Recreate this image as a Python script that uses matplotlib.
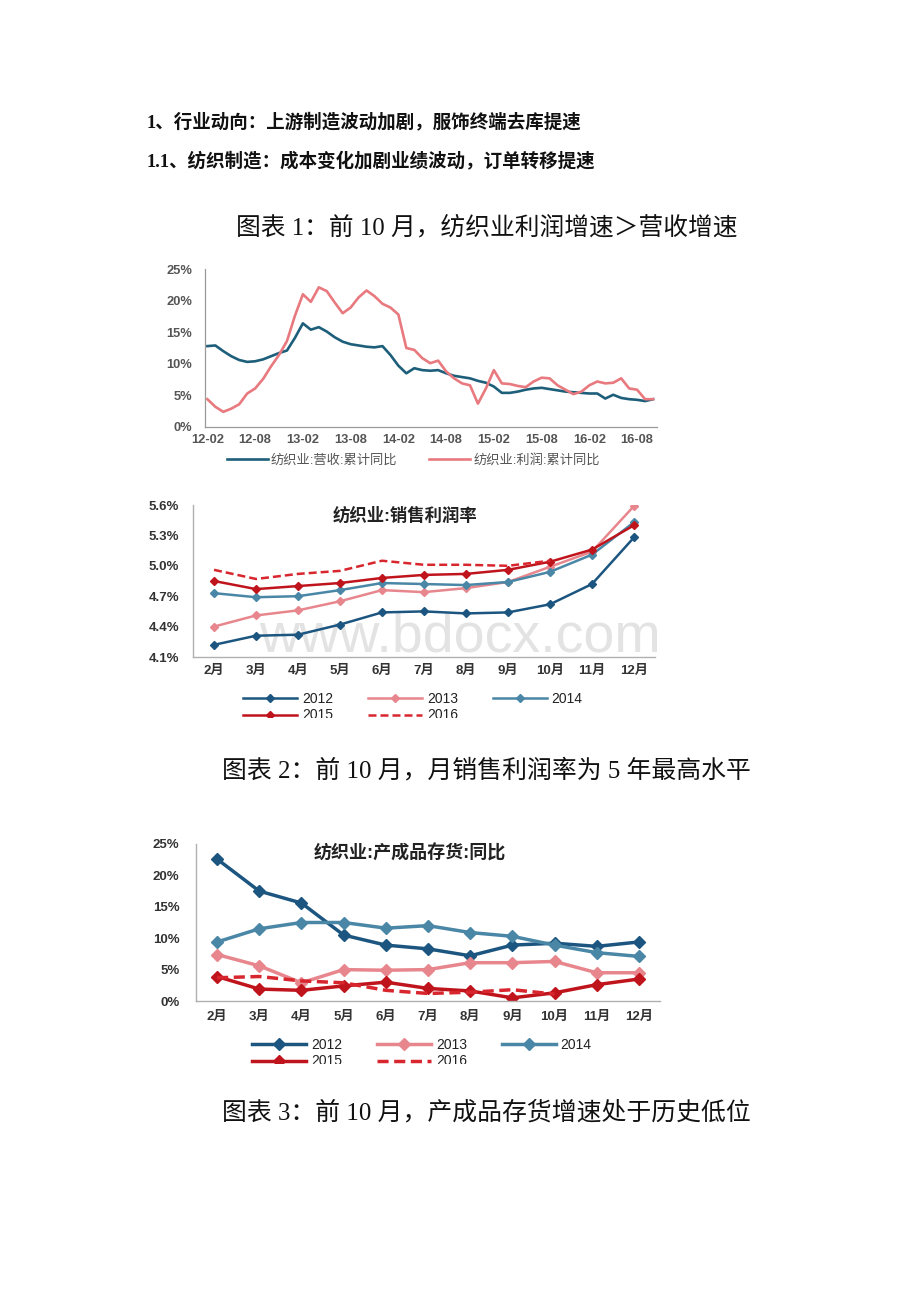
import matplotlib
matplotlib.use('Agg')
import matplotlib.pyplot as plt
from matplotlib.patches import Rectangle
import pandas as pd

plt.rcParams['font.family'] = ['Liberation Sans', 'Noto Sans CJK SC', 'DejaVu Sans']

# ---------------- data ----------------
# Chart 1: monthly cumulative YoY, 2012-02 .. 2016-10
c1_months = [p.strftime('%y-%m') for p in pd.period_range('2012-02', '2016-10', freq='M')]
c1_tick_labels = ['12-02', '12-08', '13-02', '13-08', '14-02', '14-08', '15-02', '15-08', '16-02', '16-08']
c1_revenue = [12.8, 12.9, 12.0, 11.2, 10.6, 10.3, 10.4, 10.7, 11.2, 11.7,
              12.1, 14.1, 16.4, 15.4, 15.8, 15.1, 14.2, 13.5, 13.1, 12.9,
              12.7, 12.6, 12.8, 11.4, 9.7, 8.5, 9.3, 9.0, 8.9, 9.0,
              8.5, 8.1, 7.9, 7.7, 7.3, 7.0, 6.4, 5.4, 5.4, 5.6,
              5.9, 6.1, 6.2, 6.0, 5.8, 5.6, 5.5, 5.4, 5.3, 5.3,
              4.5, 5.1, 4.6, 4.4, 4.3, 4.1, 4.4]
c1_profit = [4.4, 3.2, 2.4, 2.9, 3.6, 5.3, 6.1, 7.6, 9.6, 11.4,
             13.6, 17.6, 21.0, 19.8, 22.1, 21.5, 19.7, 18.0, 18.9, 20.5,
             21.6, 20.7, 19.5, 18.9, 17.8, 12.5, 12.2, 10.9, 10.1, 10.5,
             8.8, 7.7, 6.9, 6.6, 3.7, 6.1, 9.0, 6.9, 6.8, 6.5,
             6.3, 7.2, 7.8, 7.7, 6.6, 5.9, 5.2, 5.6, 6.6, 7.2,
             6.9, 7.0, 7.7, 6.1, 5.9, 4.4, 4.4]
c1_series_names = ['纺织业:营收:累计同比', '纺织业:利润:累计同比']
c1_yticks = [0, 5, 10, 15, 20, 25]

# Chart 2 & 3: months
month_labels = ['2月', '3月', '4月', '5月', '6月', '7月', '8月', '9月', '10月', '11月', '12月']
years = ['2012', '2013', '2014', '2015', '2016']

c2_2012 = [4.22, 4.31, 4.32, 4.42, 4.54, 4.55, 4.53, 4.54, 4.62, 4.82, 5.28]
c2_2013 = [4.40, 4.51, 4.56, 4.65, 4.76, 4.74, 4.78, 4.84, 4.99, 5.14, 5.59]
c2_2014 = [4.73, 4.69, 4.70, 4.76, 4.83, 4.82, 4.81, 4.84, 4.94, 5.11, 5.43]
c2_2015 = [4.85, 4.77, 4.80, 4.83, 4.88, 4.91, 4.92, 4.96, 5.04, 5.16, 5.40]
c2_2016 = [4.96, 4.87, 4.92, 4.95, 5.05, 5.01, 5.01, 5.00, 5.05]
c2_yticks = [4.1, 4.4, 4.7, 5.0, 5.3, 5.6]

c3_2012 = [22.6, 17.5, 15.6, 10.5, 8.9, 8.3, 7.2, 8.9, 9.2, 8.7, 9.4]
c3_2013 = [7.4, 5.6, 2.9, 5.0, 4.9, 5.0, 6.1, 6.1, 6.3, 4.5, 4.5]
c3_2014 = [9.4, 11.5, 12.5, 12.5, 11.6, 12.0, 10.9, 10.3, 8.9, 7.7, 7.1]
c3_2015 = [3.9, 1.9, 1.7, 2.4, 3.0, 2.0, 1.6, 0.5, 1.3, 2.6, 3.5]
c3_2016 = [3.7, 3.9, 3.2, 2.9, 1.7, 1.2, 1.4, 1.8, 1.1]
c3_yticks = [0, 5, 10, 15, 20, 25]

# ---------------- styles ----------------
W, H = 920, 1302
fig = plt.figure(figsize=(W / 100, H / 100), dpi=100)


def fx(x):
    return x / W


def fy(y):
    return 1 - y / H


def axes_px(left, top, right, bottom):
    return fig.add_axes([fx(left), fy(bottom), (right - left) / W, (bottom - top) / H])


col_rev = '#1d5f7a'
col_pro = '#e8797e'
year_cols = {'2012': '#1c5680', '2013': '#e8868d', '2014': '#4a87a6',
             '2015': '#c0141d', '2016': '#d8262e'}
spine_col = '#b0b0b0'

# ---------------- page text ----------------
head_font = ['Liberation Serif', 'Noto Sans CJK SC']
fig.text(fx(147), fy(122), '1、行业动向：上游制造波动加剧，服饰终端去库提速',
         fontsize=13.3, fontweight='bold', family=head_font, ha='left', va='center', color='#111111')
fig.text(fx(147), fy(162), '1.1、纺织制造：成本变化加剧业绩波动，订单转移提速',
         fontsize=13.3, fontweight='bold', family=head_font, ha='left', va='center', color='#111111')
fig.text(fx(236), fy(228), '图表 1：前 10 月，纺织业利润增速＞营收增速',
         fontsize=17.8, family=head_font, ha='left', va='center', color='#111111')
fig.text(fx(222), fy(771), '图表 2：前 10 月，月销售利润率为 5 年最高水平',
         fontsize=17.9, family=head_font, ha='left', va='center', color='#111111')
fig.text(fx(222), fy(1113), '图表 3：前 10 月，产成品存货增速处于历史低位',
         fontsize=17.9, family=head_font, ha='left', va='center', color='#111111')

# ---------------- chart 1 ----------------
ax1 = axes_px(205, 269, 657, 427)
x1 = list(range(len(c1_months)))
l_rev, = ax1.plot(x1, c1_revenue, color=col_rev, lw=1.9, solid_joinstyle='round')
l_pro, = ax1.plot(x1, c1_profit, color=col_pro, lw=1.9, solid_joinstyle='round')
ax1.set_xlim(-0.3, len(c1_months) - 0.5)
ax1.set_ylim(0, 25)
ax1.set_yticks(c1_yticks)
ax1.set_yticklabels([f'{v}%' for v in c1_yticks])
ax1.set_xticks([c1_months.index(t) for t in c1_tick_labels])
ax1.set_xticklabels(c1_tick_labels)
for s in ['top', 'right']:
    ax1.spines[s].set_visible(False)
for s in ['left', 'bottom']:
    ax1.spines[s].set_color('#9a9a9a')
    ax1.spines[s].set_linewidth(0.9)
ax1.tick_params(length=0, labelsize=9.3, colors='#555555')
ax1.tick_params(axis='y', pad=9)
ax1.tick_params(axis='x', pad=5)
for t in ax1.get_xticklabels() + ax1.get_yticklabels():
    t.set_fontweight('bold')
ax1.set_facecolor('none')
fig.legend([l_rev, l_pro], c1_series_names, loc='center left',
           bbox_to_anchor=(fx(220), fy(460)), frameon=False, fontsize=9.5,
           handlelength=3.1, handletextpad=0.25, columnspacing=2.4, ncol=2,
           borderpad=0, labelcolor='#555555')


# ---------------- chart 2 & 3 helper ----------------
def year_chart(ax, data, yticks, ylim, fmt, lw, ms, title, title_size, title_xy, leg_xy,
               tick_pad_y, tick_pad_x):
    x = list(range(len(month_labels)))
    handles = {}
    for yr, vals in data.items():
        if yr == '2016':
            h, = ax.plot(x[:len(vals)], vals, color=year_cols[yr], lw=lw, ls=(0, (3.2, 1.6)))
        else:
            h, = ax.plot(x[:len(vals)], vals, color=year_cols[yr], lw=lw, marker='D',
                         ms=ms, mec=year_cols[yr], mfc=year_cols[yr])
        handles[yr] = h
    ax.set_xlim(-0.5, len(month_labels) - 0.5)
    ax.set_ylim(*ylim)
    ax.set_yticks(yticks)
    ax.set_yticklabels([fmt.format(v) for v in yticks])
    ax.set_xticks(x)
    ax.set_xticklabels(month_labels)
    for s in ['top', 'right']:
        ax.spines[s].set_visible(False)
    for s in ['left', 'bottom']:
        ax.spines[s].set_color(spine_col)
        ax.spines[s].set_linewidth(1.0)
    ax.tick_params(length=0, labelsize=9.5, colors='#333333')
    ax.tick_params(axis='y', pad=tick_pad_y)
    ax.tick_params(axis='x', pad=tick_pad_x)
    for t in ax.get_xticklabels() + ax.get_yticklabels():
        t.set_fontweight('bold')
    ax.set_facecolor('none')
    fig.text(fx(title_xy[0]), fy(title_xy[1]), title, fontsize=title_size, fontweight='bold',
             ha='center', va='center', color='#222222')
    order = ['2012', '2015', '2013', '2016', '2014']
    fig.legend([handles[k] for k in order], order, loc='center left',
               bbox_to_anchor=(fx(leg_xy[0]), fy(leg_xy[1])), frameon=False, fontsize=10,
               handlelength=3.9, handletextpad=0.35, columnspacing=2.5, ncol=3,
               borderpad=0, labelspacing=0.2, numpoints=1, labelcolor='#222222')


ax2 = axes_px(193, 505, 655, 657)
year_chart(ax2, {'2012': c2_2012, '2013': c2_2013, '2014': c2_2014, '2015': c2_2015, '2016': c2_2016},
           c2_yticks, (4.1, 5.6), '{:.1f}%', 1.8, 4.5, '纺织业:销售利润率', 12.5, (405, 515),
           (236, 707), 10, 6)

ax3 = axes_px(196, 844, 660, 1001)
year_chart(ax3, {'2012': c3_2012, '2013': c3_2013, '2014': c3_2014, '2015': c3_2015, '2016': c3_2016},
           c3_yticks, (0, 25), '{:.0f}%', 2.5, 6.3, '纺织业:产成品存货:同比', 13, (410, 853),
           (245, 1053), 12, 7)

# watermark
fig.text(fx(460), fy(638), 'www.bdocx.com', fontsize=40, color='#e3e3e3', ha='center',
         va='center', family='Liberation Sans', zorder=-1)

# crop of the legends' second rows (as in source)
fig.patches.append(Rectangle((0, fy(745)), 1, (745 - 718) / H, transform=fig.transFigure,
                             facecolor='white', edgecolor='none', zorder=20))
fig.patches.append(Rectangle((0, fy(1085)), 1, (1085 - 1064) / H, transform=fig.transFigure,
                             facecolor='white', edgecolor='none', zorder=20))

fig.savefig('out.png', dpi=100, facecolor='white')
